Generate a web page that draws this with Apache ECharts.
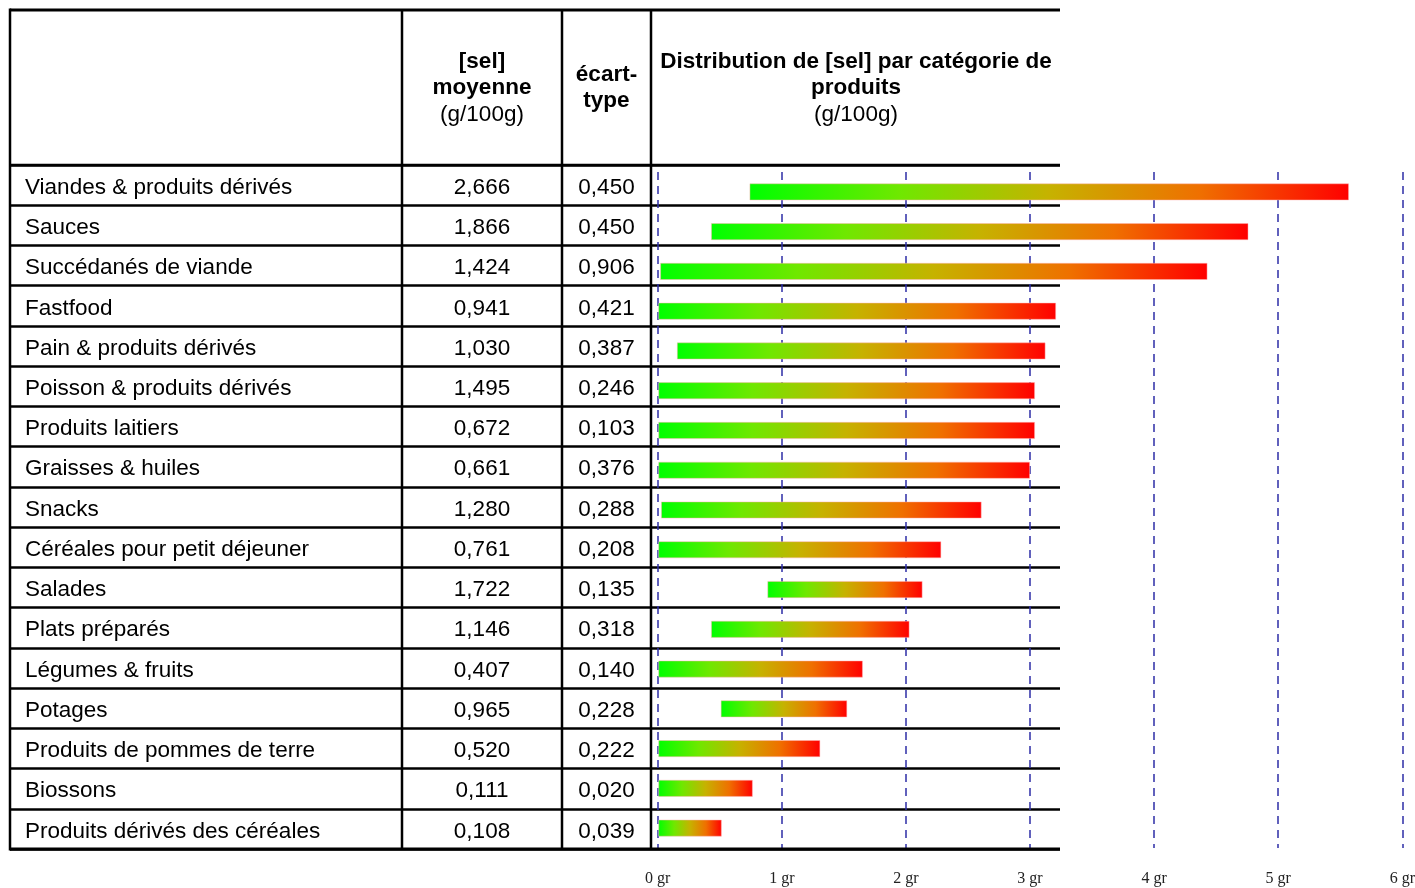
<!DOCTYPE html>
<html><head><meta charset="utf-8">
<script src="https://cdn.jsdelivr.net/npm/echarts@6/dist/echarts.min.js"></script>
<style>html,body{margin:0;padding:0;background:#fff}#c{width:1415px;height:888px}</style>
</head><body><div id="c"></div>
<script>
const categories = ['Viandes & produits dérivés','Sauces','Succédanés de viande','Fastfood','Pain & produits dérivés','Poisson & produits dérivés','Produits laitiers','Graisses & huiles','Snacks','Céréales pour petit déjeuner','Salades','Plats préparés','Légumes & fruits','Potages','Produits de pommes de terre','Biossons','Produits dérivés des céréales'];
const meanValues = [2.666,1.866,1.424,0.941,1.030,1.495,0.672,0.661,1.280,0.761,1.722,1.146,0.407,0.965,0.520,0.111,0.108];
const sdValues = [0.450,0.450,0.906,0.421,0.387,0.246,0.103,0.376,0.288,0.208,0.135,0.318,0.140,0.228,0.222,0.020,0.039];
const minValues = [0.74,0.43,0.02,0.005,0.155,0.005,0.005,0.005,0.027,0.005,0.884,0.43,0.005,0.508,0.005,0.005,0.005];
const maxValues = [5.57,4.76,4.43,3.21,3.125,3.04,3.04,3.0,2.61,2.285,2.134,2.029,1.653,1.527,1.31,0.766,0.516];
const tickUnit = 'gr';

const fmt = v => v.toFixed(3).replace('.', ',');
const FONT = '"Liberation Sans", Arial, Helvetica, sans-serif';
const FS = 22.5;

const chart = echarts.init(document.getElementById('c'), null, {renderer:'canvas'});

function line(x1,y1,x2,y2,w){
  return {type:'line', z:100, shape:{x1,y1,x2,y2}, style:{stroke:'#000', lineWidth:w}};
}
function txt(t,x,y,bold){
  return {type:'text', z:100, style:{text:t, x, y, align:'center', verticalAlign:'middle',
    font:(bold?'bold ':'')+FS+'px '+FONT, fill:'#000'}};
}

const labelBase = {fontFamily:FONT, fontSize:FS, color:'#000', inside:true, interval:0};
const gridBase = {containLabel:false, outerBoundsMode:'none'};

const option = {
  animation:false,
  backgroundColor:'#fff',
  grid:[
    Object.assign({left:10, top:165, width:1050, height:684}, gridBase),   // row lines
    Object.assign({left:10, top:167.5, width:392, height:684}, gridBase),  // names
    Object.assign({left:402, top:167.5, width:160, height:684}, gridBase), // means
    Object.assign({left:562, top:167.5, width:89, height:684}, gridBase),  // sds
    Object.assign({left:657.7, top:172, width:744.6, height:676}, gridBase) // chart
  ],
  xAxis:[
    {type:'value', gridIndex:0, show:false},
    {type:'value', gridIndex:1, show:false},
    {type:'value', gridIndex:2, show:false},
    {type:'value', gridIndex:3, show:false},
    {type:'value', gridIndex:4, min:0, max:6, interval:1,
     axisLine:{show:false}, axisTick:{show:false},
     axisLabel:{formatter:v => v + ' ' + tickUnit, margin:23, fontFamily:'"Liberation Serif",serif', fontSize:16, color:'#222'},
     splitLine:{show:true, lineStyle:{color:'#2e2ea6', width:1.5, type:[8,6]}}}
  ],
  yAxis:[
    {type:'category', gridIndex:0, data:categories, inverse:true,
     axisLine:{show:false}, axisTick:{show:false}, axisLabel:{show:false},
     splitLine:{show:true, interval:0, lineStyle:{color:'#000', width:2.5}}},
    {type:'category', gridIndex:1, data:categories, inverse:true,
     axisLine:{show:false}, axisTick:{show:false}, splitLine:{show:false},
     axisLabel:Object.assign({}, labelBase, {margin:15, align:'left'})},
    {type:'category', gridIndex:2, data:meanValues.map(fmt), inverse:true,
     axisLine:{show:false}, axisTick:{show:false}, splitLine:{show:false},
     axisLabel:Object.assign({}, labelBase, {margin:80, align:'center'})},
    {type:'category', gridIndex:3, data:sdValues.map(fmt), inverse:true,
     axisLine:{show:false}, axisTick:{show:false}, splitLine:{show:false},
     axisLabel:Object.assign({}, labelBase, {margin:44.5, align:'center'})},
    {type:'category', gridIndex:4, data:categories, inverse:true, show:false}
  ],
  series:[
    {type:'bar', xAxisIndex:4, yAxisIndex:4, stack:'r', barWidth:17, silent:true,
     itemStyle:{color:'rgba(0,0,0,0)'}, data:minValues},
    {type:'bar', xAxisIndex:4, yAxisIndex:4, stack:'r', barWidth:17,
     itemStyle:{color:{type:'linear', x:0, y:0, x2:1, y2:0, colorStops:[
       {offset:0, color:'#00ff00'},
       {offset:0.25, color:'#6fe800'},
       {offset:0.5, color:'#c6b200'},
       {offset:0.75, color:'#ef7000'},
       {offset:1, color:'#ff0000'}]},
       borderColor:'rgba(255,180,180,0.6)', borderWidth:0.8},
     data:maxValues.map((v,i) => +(v - minValues[i]).toFixed(4))}
  ],
  graphic:[
    line(10,10,1060,10,3),
    line(10,165,1060,165,2.5),
    line(10,849,1060,849,3),
    line(10,8.5,10,850.5,2.5),
    line(402,10,402,849,2.5),
    line(562,10,562,849,2.5),
    line(651,10,651,849,2.5),
    txt('[sel]',482,62,true),
    txt('moyenne',482,88,true),
    txt('(g/100g)',482,115,false),
    txt('écart-',606.5,75,true),
    txt('type',606.5,101,true),
    txt('Distribution de [sel] par catégorie de',856,62,true),
    txt('produits',856,88,true),
    txt('(g/100g)',856,115,false)
  ]
};
chart.setOption(option);
</script></body></html>
